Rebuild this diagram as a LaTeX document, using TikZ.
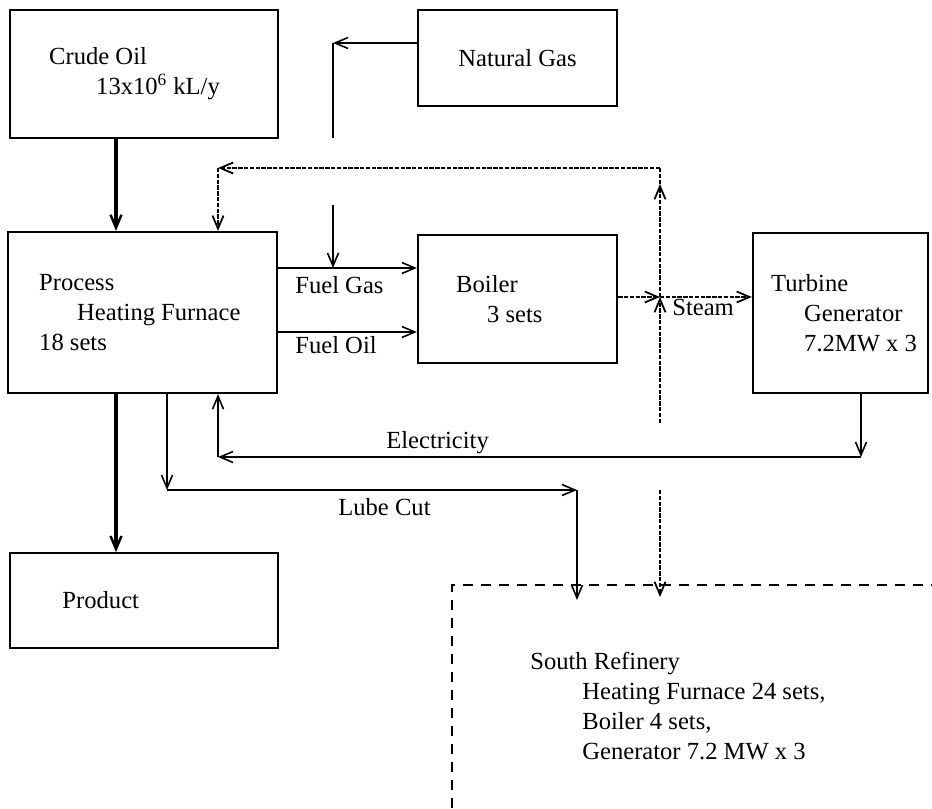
\documentclass[tikz,border=0pt]{standalone}
\usepackage{fontspec}
\setmainfont{Liberation Serif}
\usepackage{tikz}
\usetikzlibrary{arrows.meta, positioning}

\begin{document}
\begin{tikzpicture}[x=0.02cm, y=-0.02cm, font={\fontsize{14}{17}\selectfont},
   unit/.style={draw, line width=1.3pt, inner sep=0pt},
   lightunit/.style={unit, line width=1pt},
   txt/.style={inner sep=0pt, align=left},
   flow/.style={line width=0.9pt, -{Straight Barb[length=2.6mm, width=2.2mm]}},
   bigflow/.style={line width=2pt, -{Straight Barb[length=2.6mm, width=2.2mm, line width=1.4pt]}},
   pipe/.style={line width=1.1pt},
   steamline/.style={line width=1pt, dash pattern=on 2.5pt off 0.8pt},
   steam/.style={steamline, -{Straight Barb[length=2.6mm, width=2.2mm]}},
   refinery/.style={line width=1.1pt, dash pattern=on 2mm off 1.6mm}]
   \useasboundingbox (0,0) rectangle (932,808);

   \node[unit, minimum width=5.36cm, minimum height=2.56cm] (crude) at (144,74) {};
   \node[lightunit, minimum width=3.98cm, minimum height=1.92cm] (gas) at (517.5,58) {Natural Gas};
   \node[unit, minimum width=5.38cm, minimum height=3.22cm] (process) at (142.5,312.5) {};
   \node[unit, minimum width=3.98cm, minimum height=2.56cm] (boiler) at (517.5,299) {};
   \node[unit, minimum width=3.5cm, minimum height=3.2cm] (turbine) at (840.5,313) {};
   \node[lightunit, minimum width=5.36cm, minimum height=1.9cm] (product) at (144,600.5) {};

   \node[txt, right=0.8cm of crude.west] (crudetxt) {Crude Oil\\\hspace*{0.94cm}13x10\textsuperscript{6} kL/y};
   \node[txt, right=0.64cm of process.west] (processtxt) {Process\\\hspace*{0.76cm}Heating Furnace\\18 sets};
   \node[txt, right=0.78cm of boiler.west] (boilertxt) {Boiler\\\hspace*{0.62cm}3 sets};
   \node[txt, right=0.38cm of turbine.west] (turbinetxt) {Turbine\\\hspace*{0.66cm}Generator\\\hspace*{0.66cm}7.2MW x 3};
   \node[txt, right=1.06cm of product.west] (producttxt) {Product};
   \node[txt, anchor=west] (southtxt) at (530,706) {South Refinery\\\hspace*{1.04cm}Heating Furnace 24 sets,\\\hspace*{1.04cm}Boiler 4 sets,\\\hspace*{1.04cm}Generator 7.2 MW x 3};

   \node[txt, anchor=west] (fuelgas) at (295,285) {Fuel Gas};
   \node[txt, anchor=west] (fueloil) at (295,345) {Fuel Oil};
   \node[txt, anchor=west] (steamlbl) at (672,307) {Steam};
   \node[txt, anchor=west] (eleclbl) at (386,443) {Electricity};
   \node[txt, anchor=west] (lubelbl) at (338,507) {Lube Cut};

   \coordinate (oilx) at (116,0);
   \coordinate (ngturn) at (333,43);
   \coordinate (ngcut) at (333,138);
   \coordinate (ngback) at (333,205);
   \coordinate (fgin) at (333,268);
   \coordinate (foin) at (300,332);
   \coordinate (steamj) at (660,297);
   \coordinate (steamup) at (660,184);
   \coordinate (fbright) at (660,168);
   \coordinate (fbleft) at (218,168);
   \coordinate (steamcut) at (660,423);
   \coordinate (steamback) at (660,490);
   \coordinate (srsteam) at (660,597);
   \coordinate (elright) at (861,457);
   \coordinate (elleft) at (218,457);
   \coordinate (lubel) at (167,490);
   \coordinate (luber) at (577,490);
   \coordinate (srlube) at (577,600);
   \coordinate (srcorner) at (452,585);

   \draw[bigflow] (crude.south -| oilx) -- (process.north -| oilx);
   \draw[bigflow] (process.south -| oilx) -- (product.north -| oilx);

   \draw[flow] (gas.west |- ngturn) -- (ngturn);
   \draw[pipe] (ngturn) -- (ngcut);
   \draw[flow] (ngback) -- (fgin);
   \draw[flow] (process.east |- fgin) -- (boiler.west |- fgin);
   \draw[flow] (process.east |- foin) -- (boiler.west |- foin);

   \draw[steam] (boiler.east |- steamj) -- (steamj);
   \draw[steam] (steamj) -- (turbine.west |- steamj);
   \draw[steam] (steamcut) -- (steamj);
   \draw[steam] (steamj) -- (steamup);
   \draw[steamline] (steamup) -- (fbright);
   \draw[steam] (fbright) -- (fbleft);
   \draw[steam] (fbleft) -- (process.north -| fbleft);
   \draw[steam] (steamback) -- (srsteam);

   \draw[flow] (turbine.south -| elright) -- (elright);
   \draw[flow] (elright) -- (elleft);
   \draw[flow] (elleft) -- (process.south -| elleft);

   \draw[flow] (process.south -| lubel) -- (lubel);
   \draw[flow] (lubel) -- (luber);
   \draw[flow] (luber) -- (srlube);

   \draw[refinery] (452,808) -- (srcorner) -- (932,585);
\end{tikzpicture}
\end{document}
